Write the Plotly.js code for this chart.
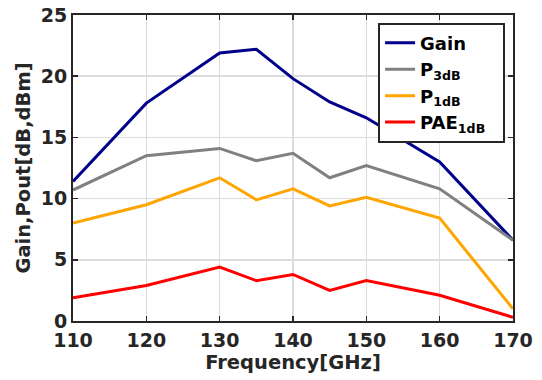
<!DOCTYPE html>
<html><head><meta charset="utf-8">
<script src="https://cdn.plot.ly/plotly-3.0.1.min.js"></script>
<style>html,body{margin:0;padding:0;background:#fff}</style>
</head><body><div id="chart" style="width:542px;height:380px"></div>
<script>
const freq = [110, 120, 130, 135, 140, 145, 150, 160, 170];
const gain = [11.4, 17.8, 21.9, 22.2, 19.8, 17.9, 16.6, 13.0, 6.6];
const p3db = [10.7, 13.5, 14.1, 13.1, 13.7, 11.7, 12.7, 10.8, 6.6];
const p1db = [8.0, 9.5, 11.7, 9.9, 10.8, 9.4, 10.1, 8.4, 1.0];
const pae = [1.9, 2.9, 4.4, 3.3, 3.8, 2.5, 3.3, 2.1, 0.3];
const names = ['Gain', 'P<sub>3dB</sub>', 'P<sub>1dB</sub>', 'PAE<sub>1dB</sub>'];
const colors = ['#00008b', '#808080', '#ffa500', '#ff0000'];
const series = [gain, p3db, p1db, pae];
const traces = series.map((s, i) => ({
  x: freq, y: s, name: names[i] + '\u00a0\u00a0', type: 'scatter', mode: 'lines',
  line: {color: colors[i], width: 3}
}));
const axisCommon = {
  showline: true, mirror: 'ticks', linecolor: '#262626', linewidth: 2,
  ticks: 'inside', ticklen: 5, tickwidth: 1.5, tickcolor: '#262626',
  showgrid: true, gridcolor: '#dcdcdc', gridwidth: 1.5, zeroline: false,
  tickfont: {family: 'DejaVu Sans', size: 19, color: '#262626', weight: 'bold'}
};
const layout = {
  width: 542, height: 380,
  margin: {l: 73, r: 29, t: 15, b: 59},
  paper_bgcolor: '#fff', plot_bgcolor: '#fff',
  font: {family: 'DejaVu Sans', color: '#262626'},
  xaxis: Object.assign({}, axisCommon, {range: [110, 170], dtick: 10, ticklabelstandoff: 1,
    title: {text: '<b>Frequency[GHz]</b>', font: {family: 'DejaVu Sans', size: 19.5, color: '#262626'}, standoff: 6}}),
  yaxis: Object.assign({}, axisCommon, {range: [0, 25], dtick: 5,
    title: {text: '<b>Gain,Pout[dB,dBm]</b>', font: {family: 'DejaVu Sans', size: 19.5, color: '#262626'}, standoff: 5}}),
  showlegend: true,
  legend: {x: 0.982, y: 0.975, xanchor: 'right', yanchor: 'top',
    bgcolor: '#fff', bordercolor: '#262626', borderwidth: 2,
    font: {family: 'DejaVu Sans', size: 18, color: '#000', weight: 'bold'},
    tracegroupgap: 0, itemwidth: 30}
};
Plotly.newPlot('chart', traces, layout, {displayModeBar: false, staticPlot: true});
</script></body></html>
